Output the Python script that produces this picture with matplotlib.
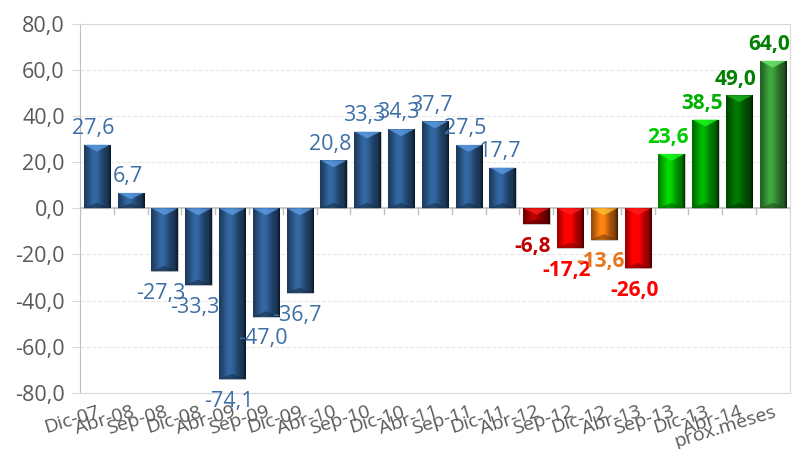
import numpy as np
import matplotlib.pyplot as plt
import matplotlib.colors as mcolors

plt.rcParams['font.family'] = ['Open Sans', 'DejaVu Sans']

# data
categories = ['Dic-07', 'Abr-08', 'Sep-08', 'Dic-08', 'Abr-09', 'Sep-09', 'Dic-09',
              'Abr-10', 'Sep-10', 'Dic-10', 'Abr-11', 'Sep-11', 'Dic-11', 'Abr-12',
              'Sep-12', 'Dic-12', 'Abr-13', 'Sep-13', 'Dic-13', 'Abr-14', 'prox.meses']
values = [27.6, 6.7, -27.3, -33.3, -74.1, -47.0, -36.7, 20.8, 33.3, 34.3, 37.7,
          27.5, 17.7, -6.8, -17.2, -13.6, -26.0, 23.6, 38.5, 49.0, 64.0]
bar_colors = ['#2f5f95'] * 13 + ['#b00000', '#ff0000', '#f07a10', '#ff0000',
                                  '#00c800', '#00a800', '#007000', '#3a9a3a']
label_colors = ['#3d6ea6'] * 13 + ['#c00000', '#ff0000', '#e8761c', '#ff0000',
                                    '#00cc00', '#00b000', '#008000', '#008000']
bold = [False] * 13 + [True] * 8

fig = plt.figure(figsize=(7.93, 4.49), dpi=100)
ax = fig.add_axes([0.101, 0.125, 0.895, 0.822])

x = np.arange(len(values))
width = 0.78
bars = ax.bar(x, values, width=width, color=bar_colors, edgecolor='#c8c8c8',
              linewidth=0.8, zorder=2)

# fake bevel/gradient look
prof = np.linspace(0, 1, 60)
shade = 0.55 + 0.55 * np.exp(-((prof - 0.4) / 0.28) ** 2)
shade[-8:] *= np.linspace(1, 0.45, 8)
for b, c in zip(bars, bar_colors):
    rgb = np.array(mcolors.to_rgb(c))
    img = np.clip(rgb[None, :] * shade[:, None], 0, 1)[None, :, :]
    bx, bw = b.get_x(), b.get_width()
    y0, y1 = sorted([b.get_y(), b.get_y() + b.get_height()])
    im = ax.imshow(img, extent=[bx, bx + bw, y0, y1], aspect='auto',
                   zorder=2.5, interpolation='bilinear')
    im.set_clip_path(b)
    d = min(3.0, (y1 - y0) * 0.4)
    light = np.clip(rgb * 1.35 + 0.12, 0, 1)
    # light bevel on top, dark bevel at bottom
    ax.fill([bx, bx + bw, bx + bw / 2], [y1, y1, y1 - d],
            color=light, alpha=0.75, zorder=3, lw=0)
    ax.fill([bx, bx + bw, bx + bw / 2], [y0, y0, y0 + d * 0.8],
            color=rgb * 0.45, alpha=0.55, zorder=3, lw=0)

for xi, v, lc, bd in zip(x, values, label_colors, bold):
    txt = f'{v:.1f}'.replace('.', ',')
    fw = 'bold' if bd else 'normal'
    fs = 15 if bd else 15.5
    if v >= 0:
        ax.text(xi - 0.1, v + 2.5, txt, ha='center', va='bottom', color=lc,
                fontsize=fs, fontweight=fw, zorder=5)
    else:
        ax.text(xi - 0.1, v - 5, txt, ha='center', va='top', color=lc,
                fontsize=fs, fontweight=fw, zorder=5)

ax.set_xlim(-0.5, len(values) - 0.5)
ax.set_ylim(-80, 80)
yt = np.arange(-80, 81, 20)
ax.set_yticks(yt)
ax.set_yticklabels([f'{t:.1f}'.replace('.', ',') for t in yt])
ax.tick_params(axis='y', length=6, color='#d9d9d9', labelsize=15.5,
               labelcolor='#595959', pad=5)
ax.set_xticks(x)
ax.set_xticklabels(categories, rotation=17, ha='right', rotation_mode='anchor')
ax.tick_params(axis='x', length=0, labelsize=14, labelcolor='#595959', pad=7)
ax.grid(axis='y', color='#e8e8e8', linewidth=0.8, linestyle='--', zorder=0)
ax.axhline(0, color='#bfbfbf', linewidth=1.2, zorder=1)
for xi in np.arange(-0.5, len(values), 1):
    ax.plot([xi, xi], [0, -2.5], color='#bfbfbf', lw=1, zorder=1)
for s in ax.spines.values():
    s.set_color('#d9d9d9')
ax.spines['left'].set_color('#bfbfbf')
ax.set_axisbelow(True)

fig.savefig('out.png', dpi=100)
